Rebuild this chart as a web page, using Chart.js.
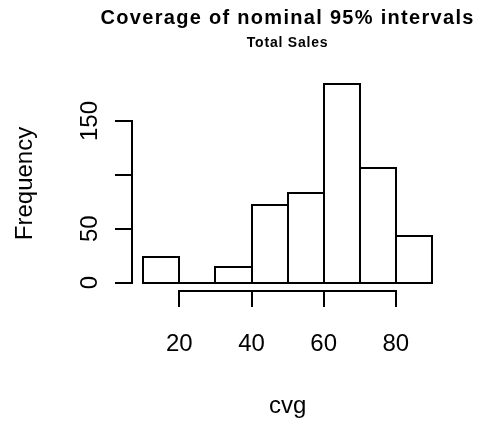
<!DOCTYPE html>
<html>
<head>
<meta charset="utf-8">
<script src="https://cdn.jsdelivr.net/npm/chart.js@4"></script>
<style>
  html, body { margin: 0; padding: 0; background: #fff; }
  canvas { display: block; }
</style>
</head>
<body>
<canvas id="hist" width="477" height="421"></canvas>
<script>
// histogram data
const binStarts = [10, 20, 30, 40, 50, 60, 70, 80];
const binWidth = 10;
const counts = [24, 0, 14, 72, 83, 184, 106, 43];

const xTicks = [20, 40, 60, 80];
const yTicks = [0, 50, 100, 150];
const yTickLabels = ['0', '50', '', '150']; // R drops "100" (overlap)

const mainTitle = 'Coverage of nominal 95% intervals';
const subTitle = 'Total Sales';
const xLabel = 'cvg';
const yLabel = 'Frequency';

const font = 'Liberation Sans, Arial, Helvetica, sans-serif';

// R pads the axis ranges by 4%
const xMin = binStarts[0], xMax = binStarts[binStarts.length - 1] + binWidth;
const yMax = Math.max(...counts);
const padX = (xMax - xMin) * 0.04, padY = yMax * 0.04;

// 2px lines look crisp on whole pixels
const snap = v => Math.round(v);

const rAxes = {
    id: 'rAxes',
    afterDatasetsDraw(chart) {
        // R strokes rect() outlines centred on the edges, so shared edges stay 2px
        const ctx = chart.ctx;
        const xs = chart.scales.x, ys = chart.scales.y;
        const base = snap(ys.getPixelForValue(0));
        ctx.save();
        ctx.strokeStyle = '#000';
        ctx.lineWidth = 2;
        ctx.lineCap = 'square';
        ctx.beginPath();
        binStarts.forEach((b, i) => {
            const left = snap(xs.getPixelForValue(b));
            const right = snap(xs.getPixelForValue(b + binWidth));
            const top = snap(ys.getPixelForValue(counts[i]));
            ctx.moveTo(left, base);
            ctx.lineTo(right, base);
            if (counts[i] > 0) {
                ctx.moveTo(left, base);
                ctx.lineTo(left, top);
                ctx.lineTo(right, top);
                ctx.lineTo(right, base);
            }
        });
        ctx.stroke();
        ctx.restore();
    },
    afterDraw(chart) {
        const ctx = chart.ctx;
        const area = chart.chartArea;
        const xs = chart.scales.x, ys = chart.scales.y;
        const cx = (area.left + area.right) / 2;
        ctx.save();
        ctx.strokeStyle = '#000';
        ctx.fillStyle = '#000';
        ctx.lineWidth = 2;
        ctx.lineCap = 'square';

        // x axis
        const ay = snap(area.bottom);
        ctx.beginPath();
        ctx.moveTo(snap(xs.getPixelForValue(xTicks[0])), ay);
        ctx.lineTo(snap(xs.getPixelForValue(xTicks[xTicks.length - 1])), ay);
        xTicks.forEach(t => {
            const px = snap(xs.getPixelForValue(t));
            ctx.moveTo(px, ay);
            ctx.lineTo(px, ay + 15);
        });
        ctx.stroke();

        // y axis
        const ax = snap(area.left);
        ctx.beginPath();
        ctx.moveTo(ax, snap(ys.getPixelForValue(yTicks[0])));
        ctx.lineTo(ax, snap(ys.getPixelForValue(yTicks[yTicks.length - 1])));
        yTicks.forEach(t => {
            const py = snap(ys.getPixelForValue(t));
            ctx.moveTo(ax, py);
            ctx.lineTo(ax - 16, py);
        });
        ctx.stroke();

        // tick labels
        ctx.font = '24px ' + font;
        ctx.textAlign = 'center';
        ctx.textBaseline = 'alphabetic';
        xTicks.forEach(t => {
            ctx.fillText(String(t), xs.getPixelForValue(t), 351);
        });
        yTicks.forEach((t, i) => {
            if (!yTickLabels[i]) return;
            ctx.save();
            ctx.translate(97, ys.getPixelForValue(t));
            ctx.rotate(-Math.PI / 2);
            ctx.fillText(yTickLabels[i], 0, 0);
            ctx.restore();
        });

        // axis titles
        ctx.fillText(xLabel, cx, 413);
        ctx.save();
        ctx.translate(32, (area.top + area.bottom) / 2);
        ctx.rotate(-Math.PI / 2);
        ctx.fillText(yLabel, 0, 0);
        ctx.restore();

        // titles
        ctx.font = 'bold 20px ' + font;
        ctx.letterSpacing = '1.3px';
        ctx.fillText(mainTitle, cx, 24);
        ctx.font = 'bold 14px ' + font;
        ctx.letterSpacing = '0.8px';
        ctx.fillText(subTitle, cx, 47);
        ctx.restore();
    }
};

new Chart(document.getElementById('hist'), {
    type: 'bar',
    data: {
        datasets: [{
            data: binStarts.map((b, i) => ({ x: b + binWidth / 2, y: counts[i] })),
            backgroundColor: '#fff',
            borderWidth: 0,
            barPercentage: 1,
            categoryPercentage: 1
        }]
    },
    options: {
        responsive: false,
        animation: false,
        devicePixelRatio: 1,
        layout: {
            padding: { left: 131.7, right: 33.5, top: 76.5, bottom: 130.5 }
        },
        scales: {
            x: { type: 'linear', display: false, offset: false, min: xMin - padX, max: xMax + padX },
            y: { type: 'linear', display: false, min: -padY, max: yMax + padY }
        },
        plugins: {
            legend: { display: false },
            tooltip: { enabled: false },
            title: { display: false }
        }
    },
    plugins: [rAxes]
});
</script>
</body>
</html>
